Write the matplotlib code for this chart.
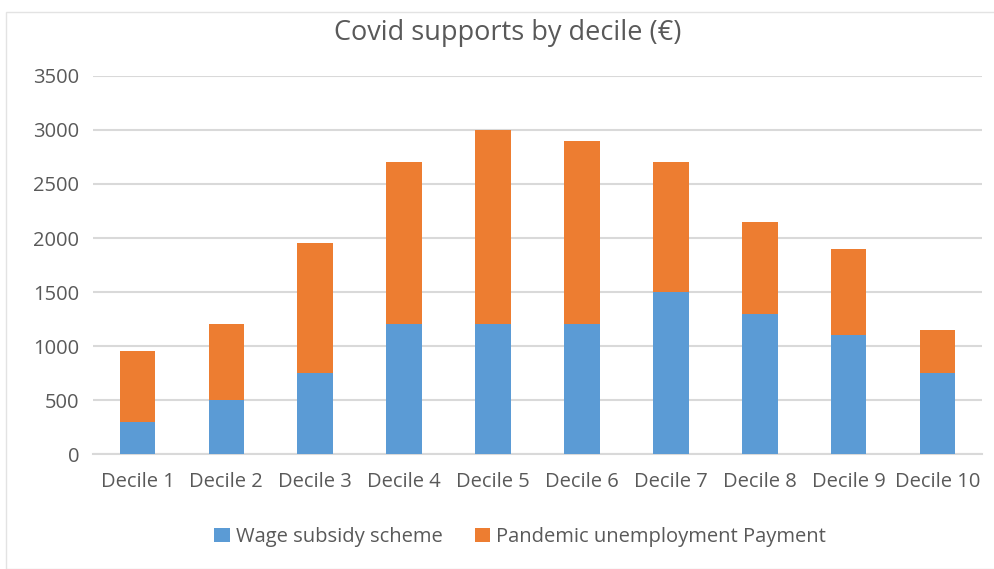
import matplotlib
matplotlib.use("Agg")
import matplotlib.pyplot as plt
from matplotlib.patches import Rectangle

# Data
categories = ["Decile 1", "Decile 2", "Decile 3", "Decile 4", "Decile 5",
              "Decile 6", "Decile 7", "Decile 8", "Decile 9", "Decile 10"]
wage_subsidy = [300, 500, 750, 1200, 1200, 1200, 1500, 1300, 1100, 750]
pandemic_payment = [650, 700, 1200, 1500, 1800, 1700, 1200, 850, 800, 400]
y_ticks = [0, 500, 1000, 1500, 2000, 2500, 3000, 3500]

BLUE = "#5B9BD5"
ORANGE = "#ED7D31"
TEXT = "#595959"
GRID = "#D9D9D9"

plt.rcParams["font.family"] = ["Open Sans", "DejaVu Sans"]

W, H = 995, 569
fig = plt.figure(figsize=(W / 100, H / 100), dpi=100)

# Light chart-area border
fig.patches.append(Rectangle((6 / W, 0), 1.2, 1 - 12 / H, transform=fig.transFigure,
                             fill=False, edgecolor="#E3E3E3", linewidth=1.0))

ax = fig.add_axes([93 / W, 1 - 454 / H, (982 - 93) / W, (454 - 76) / H])

x = range(len(categories))
ax.bar(x, wage_subsidy, width=0.4, color=BLUE, label="Wage subsidy scheme", zorder=3)
ax.bar(x, pandemic_payment, width=0.4, bottom=wage_subsidy, color=ORANGE,
       label="Pandemic unemployment Payment", zorder=3)

ax.set_xlim(-0.5, len(categories) - 0.5)
ax.set_ylim(0, 3500)
ax.set_yticks(y_ticks)
ax.set_xticks(list(x))
ax.set_xticklabels(categories)

ax.yaxis.grid(True, color=GRID, linewidth=1.5, zorder=0)
ax.set_axisbelow(True)
for side in ["top", "right", "left"]:
    ax.spines[side].set_visible(False)
ax.spines["bottom"].set_color(GRID)
ax.spines["bottom"].set_linewidth(1.5)
ax.tick_params(axis="both", length=0, colors=TEXT, labelsize=14.5)
ax.tick_params(axis="y", pad=10)
ax.tick_params(axis="x", pad=13)

fig.text(508 / W, 1 - 33 / H, "Covid supports by decile (€)", ha="center", va="center",
         fontsize=19.5, color=TEXT)

handles, labels = ax.get_legend_handles_labels()
fig.legend(handles, labels, loc="center", bbox_to_anchor=(520 / W, 1 - 537 / H), ncol=2,
           frameon=False, fontsize=14.5, labelcolor=TEXT, handlelength=0.75,
           handleheight=0.75, handletextpad=0.3, columnspacing=1.6)

fig.savefig("out.png", dpi=100, facecolor="white")
